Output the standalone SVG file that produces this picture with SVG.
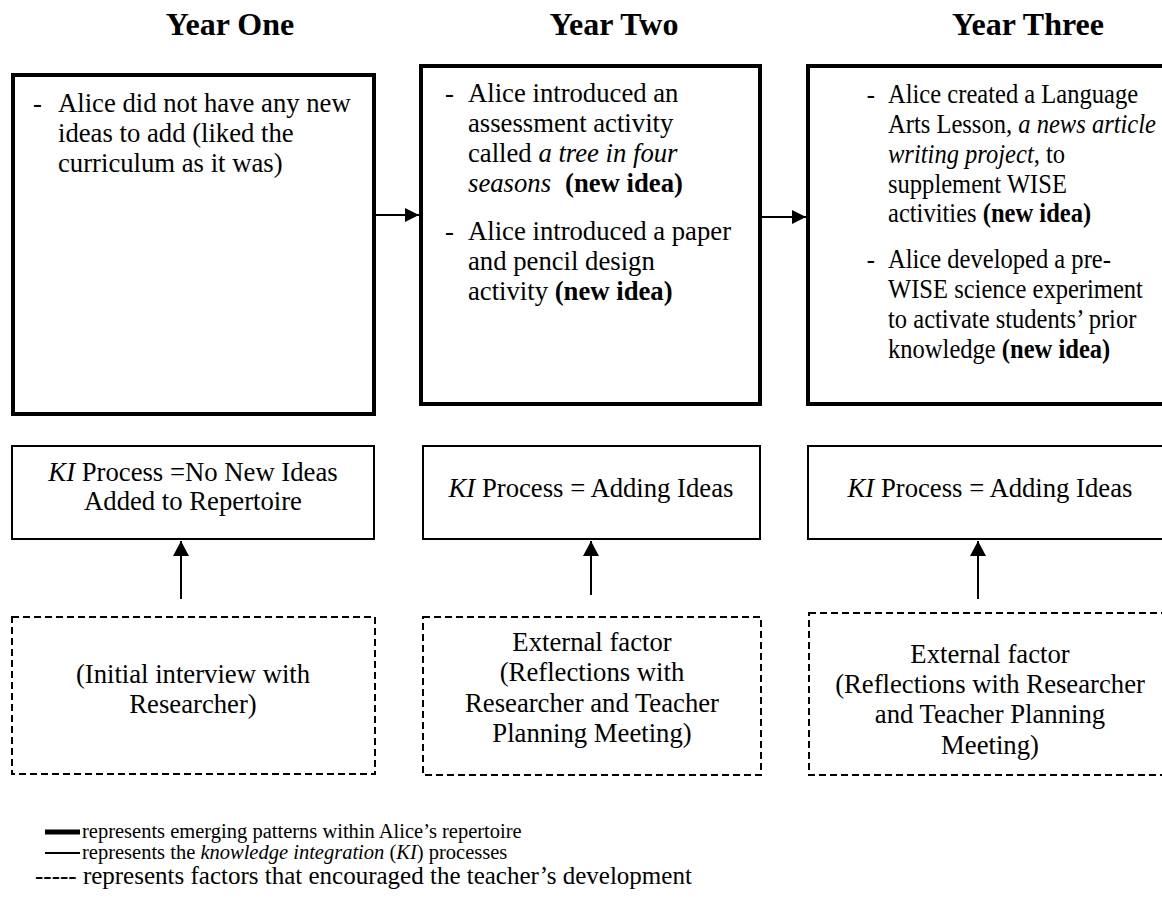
<svg xmlns="http://www.w3.org/2000/svg" width="1162" height="911" viewBox="0 0 1162 911">
  <style>
    text { font-family: "Liberation Serif", "Times New Roman", serif; fill: #000; }
    .title { font-size: 32px; font-weight: bold; text-anchor: middle; }
    .body { font-size: 26.7px; }
    .mid { font-size: 26.7px; text-anchor: middle; }
    .legend { font-size: 20.5px; }
    .legend-lg { font-size: 25px; }
    .i { font-style: italic; }
    .b { font-weight: bold; }
    .pattern { fill: #fff; stroke: #000; stroke-width: 4; }
    .process { fill: #fff; stroke: #000; stroke-width: 2; }
    .factor { fill: #fff; stroke: #000; stroke-width: 2; stroke-dasharray: 7 4; }
    .link { stroke: #000; stroke-width: 2; fill: none; }
  </style>
  <defs>
    <marker id="head" viewBox="0 0 14 14" refX="14" refY="7" markerWidth="14" markerHeight="14" markerUnits="userSpaceOnUse" orient="auto">
      <path d="M0,0 L14,7 L0,14 Z" fill="#000"/>
    </marker>
    <marker id="headUp" viewBox="0 0 15 16" refX="15" refY="8" markerWidth="15" markerHeight="16" markerUnits="userSpaceOnUse" orient="auto">
      <path d="M0,0 L15,8 L0,16 Z" fill="#000"/>
    </marker>
  </defs>

  <rect width="1162" height="911" fill="#fff"/>

  <!-- column headings -->
  <g id="headings">
    <text class="title" x="230" y="35">Year One</text>
    <text class="title" x="614" y="35">Year Two</text>
    <text class="title" x="1028" y="35">Year Three</text>
  </g>

  <!-- emerging patterns (thick boxes) -->
  <g id="pattern-year1">
    <rect class="pattern" x="13" y="75" width="361" height="339"/>
    <text class="body" x="33" y="112">-</text>
    <text class="body" x="58" y="112">Alice did not have any new</text>
    <text class="body" x="58" y="142">ideas to add (liked the</text>
    <text class="body" x="58" y="172">curriculum as it was)</text>
  </g>

  <g id="pattern-year2">
    <rect class="pattern" x="421" y="66" width="339" height="338"/>
    <text class="body" x="445" y="102">-</text>
    <text class="body" x="468" y="102">Alice introduced an</text>
    <text class="body" x="468" y="132">assessment activity</text>
    <text class="body" x="468" y="162">called <tspan class="i">a tree in four</tspan></text>
    <text class="body" x="468" y="192"><tspan class="i">seasons</tspan><tspan class="b" dx="14">(new idea)</tspan></text>
    <text class="body" x="445" y="240">-</text>
    <text class="body" x="468" y="240">Alice introduced a paper</text>
    <text class="body" x="468" y="270">and pencil design</text>
    <text class="body" x="468" y="300">activity <tspan class="b">(new idea)</tspan></text>
  </g>

  <g id="pattern-year3">
    <rect class="pattern" x="808" y="66" width="362" height="338"/>
    <!-- this column is set slightly condensed so the lines fit the box -->
    <g transform="matrix(0.92 0 0 1 71.04 0)">
      <text class="body" x="865" y="103">-</text>
      <text class="body" x="888" y="103">Alice created a Language</text>
      <text class="body" x="888" y="133">Arts Lesson, <tspan class="i">a news article</tspan></text>
      <text class="body" x="888" y="163"><tspan class="i">writing project</tspan>, to</text>
      <text class="body" x="888" y="193">supplement WISE</text>
      <text class="body" x="888" y="222">activities <tspan class="b">(new idea)</tspan></text>
      <text class="body" x="865" y="268">-</text>
      <text class="body" x="888" y="268">Alice developed a pre-</text>
      <text class="body" x="888" y="298">WISE science experiment</text>
      <text class="body" x="888" y="328">to activate students’ prior</text>
      <text class="body" x="888" y="358">knowledge <tspan class="b">(new idea)</tspan></text>
    </g>
  </g>

  <!-- knowledge integration processes -->
  <g id="process-year1">
    <rect class="process" x="12" y="446" width="362" height="93"/>
    <text class="mid" x="193" y="481"><tspan class="i">KI</tspan> Process =No New Ideas</text>
    <text class="mid" x="193" y="510">Added to Repertoire</text>
  </g>
  <g id="process-year2">
    <rect class="process" x="423" y="446" width="337" height="93"/>
    <text class="mid" x="591" y="497"><tspan class="i">KI</tspan> Process = Adding Ideas</text>
  </g>
  <g id="process-year3">
    <rect class="process" x="808" y="446" width="362" height="93"/>
    <text class="mid" x="990" y="497"><tspan class="i">KI</tspan> Process = Adding Ideas</text>
  </g>

  <!-- encouraging factors -->
  <g id="factor-year1">
    <rect class="factor" x="12" y="617" width="363" height="157"/>
    <text class="mid" x="193" y="683">(Initial interview with</text>
    <text class="mid" x="193" y="713">Researcher)</text>
  </g>
  <g id="factor-year2">
    <rect class="factor" x="423" y="617" width="338" height="158"/>
    <text class="mid" x="592" y="651">External factor</text>
    <text class="mid" x="592" y="681">(Reflections with</text>
    <text class="mid" x="592" y="712">Researcher and Teacher</text>
    <text class="mid" x="592" y="742">Planning Meeting)</text>
  </g>
  <g id="factor-year3">
    <rect class="factor" x="809" y="613" width="362" height="162"/>
    <text class="mid" x="990" y="663">External factor</text>
    <text class="mid" x="990" y="693">(Reflections with Researcher</text>
    <text class="mid" x="990" y="723">and Teacher Planning</text>
    <text class="mid" x="990" y="754">Meeting)</text>
  </g>

  <!-- connectors -->
  <g id="connectors">
    <line class="link" x1="376" y1="215" x2="419" y2="215" marker-end="url(#head)"/>
    <line class="link" x1="762" y1="217" x2="806" y2="217" marker-end="url(#head)"/>
    <line class="link" x1="181" y1="599" x2="181" y2="541" marker-end="url(#headUp)"/>
    <line class="link" x1="591" y1="595" x2="591" y2="541" marker-end="url(#headUp)"/>
    <line class="link" x1="978" y1="599" x2="978" y2="541" marker-end="url(#headUp)"/>
  </g>

  <!-- key -->
  <g id="legend">
    <line x1="45" y1="832" x2="80" y2="832" stroke="#000" stroke-width="5"/>
    <text class="legend" x="82" y="838">represents emerging patterns within Alice’s repertoire</text>
    <line x1="45" y1="853" x2="80" y2="853" stroke="#000" stroke-width="2"/>
    <text class="legend" x="82" y="859">represents the <tspan class="i">knowledge integration</tspan> (<tspan class="i">KI</tspan>) processes</text>
    <text class="legend-lg" x="35" y="884">----- represents factors that encouraged the teacher’s development</text>
  </g>
</svg>
